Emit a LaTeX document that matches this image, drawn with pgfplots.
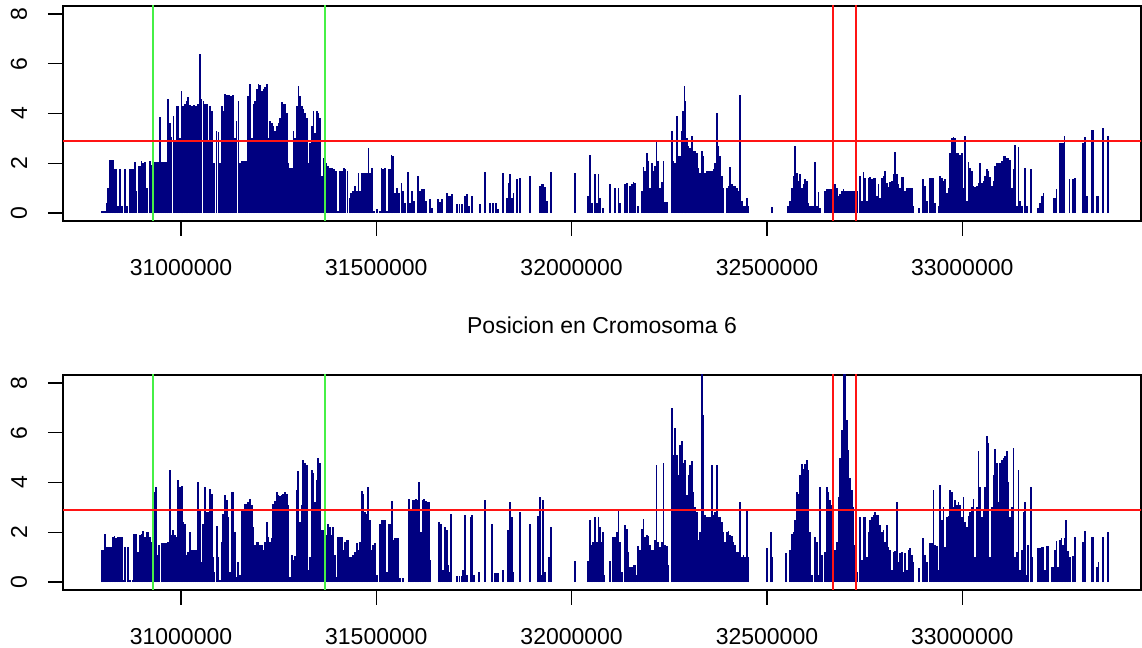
\documentclass[border=0pt]{standalone}
\usepackage{fontspec}
\setmainfont{Liberation Sans}
\usepackage{pgfplots}
\usepackage{pgfplotstable}
\pgfplotsset{compat=1.18}
\definecolor{rnavy}{RGB}{0,0,128}
\definecolor{rgreen}{RGB}{70,240,70}
\definecolor{rred}{RGB}{255,20,20}

% positions in kb (thousands of bp) along chromosome 6
\pgfplotstableread{
x y
30797.7 0.1
30802.8 0.1
30808.0 0.1
30810.5 0.4
30813.1 1.0
30816.9 2.15
30820.8 2.15
30825.9 2.15
30829.7 1.75
30833.6 1.75
30838.7 0.3
30843.8 1.75
30848.9 0.3
30856.6 1.75
30861.7 0.3
30868.1 1.75
30872.0 1.75
30877.1 1.75
30882.2 2.05
30886.0 0.9
30891.2 1.9
30895.0 1.9
30898.8 2.1
30902.7 2.0
30907.8 2.05
30912.9 1.0
30920.6 2.1
30925.7 1.95
30933.4 2.05
30938.5 2.05
30943.6 2.05
30946.2 3.85
30951.3 2.05
30956.4 2.05
30961.6 2.05
30966.7 4.6
30971.8 3.6
30975.6 3.05
30980.8 3.9
30984.6 2.9
30989.7 4.3
30993.6 4.3
30997.4 3.0
31001.2 4.9
31005.1 4.3
31010.2 4.4
31014.0 4.5
31017.9 4.65
31023.0 4.35
31028.1 4.3
31033.2 4.35
31038.4 4.3
31043.5 4.4
31048.6 6.4
31052.4 4.6
31057.6 4.5
31061.4 4.4
31066.5 4.4
31070.4 2.9
31074.2 4.3
31079.3 4.1
31084.4 2.0
31090.8 3.3
31096.0 3.25
31099.8 2.0
31104.9 4.3
31108.8 4.1
31112.6 4.8
31117.7 4.75
31122.8 4.75
31128.0 4.7
31133.1 4.75
31138.2 3.0
31142.0 3.7
31147.2 4.5
31151.0 2.0
31156.1 2.1
31161.2 2.1
31166.4 2.1
31171.5 4.7
31176.6 5.2
31181.7 3.0
31185.6 4.4
31189.4 4.5
31194.5 5.0
31198.4 5.2
31202.2 5.15
31207.3 4.9
31211.2 5.0
31215.0 5.05
31220.1 5.2
31224.0 3.0
31227.8 3.7
31232.9 3.6
31236.8 3.5
31240.6 3.3
31245.7 3.5
31249.6 3.6
31253.4 3.8
31258.5 4.45
31262.4 4.4
31266.2 4.4
31271.3 4.0
31275.2 2.0
31279.0 1.8
31284.1 1.8
31288.0 3.3
31291.8 3.0
31296.9 4.3
31300.8 5.1
31304.6 4.7
31309.7 4.3
31313.6 4.2
31317.4 4.0
31322.5 3.8
31326.4 2.0
31330.2 2.8
31335.3 3.5
31339.2 4.1
31343.0 3.2
31348.1 4.1
31352.0 4.0
31355.8 3.8
31360.9 1.5
31364.8 2.2
31371.2 2.0
31376.3 1.9
31381.4 1.8
31386.5 1.8
31391.6 1.75
31396.8 1.7
31401.9 0.1
31407.0 1.7
31412.1 1.7
31417.2 1.8
31421.1 1.75
31426.2 1.7
31431.3 0.6
31435.2 0.8
31440.3 0.9
31445.4 1.1
31450.5 0.9
31454.4 1.6
31458.2 0.9
31463.3 1.6
31467.2 1.6
31471.0 1.6
31476.1 1.6
31480.0 2.6
31483.8 1.6
31488.9 1.8
31494.0 0.1
31501.7 0.15
31509.4 0.1
31513.2 1.8
31517.1 1.75
31522.2 1.8
31527.3 0.1
31531.2 1.75
31535.0 1.75
31538.8 2.35
31542.7 2.3
31547.8 0.8
31552.9 1.0
31558.0 0.8
31564.4 1.2
31568.3 0.9
31573.4 0.4
31581.1 1.65
31586.2 0.4
31591.3 0.9
31596.4 0.5
31606.7 1.5
31611.8 0.9
31616.9 0.95
31622.0 0.95
31627.2 0.5
31637.4 0.55
31642.5 0.2
31657.9 0.55
31663.0 0.45
31668.1 0.55
31680.9 0.8
31686.0 0.7
31688.6 0.7
31693.7 0.75
31706.5 0.35
31712.9 0.35
31719.3 0.35
31727.0 0.7
31732.1 0.75
31737.2 0.3
31744.9 0.7
31765.4 0.35
31778.2 1.65
31791.0 0.4
31798.7 0.4
31806.4 0.4
31811.5 0.15
31824.3 1.6
31834.5 0.6
31838.4 1.2
31842.2 1.55
31847.3 0.6
31851.2 0.8
31860.1 1.35
31867.8 1.4
31893.4 1.5
31919.0 1.1
31924.1 1.15
31928.0 1.15
31931.8 1.05
31936.9 0.5
31947.2 1.65
32009.0 1.6
32041.9 0.7
32047.0 2.35
32052.1 0.4
32059.8 1.55
32064.9 0.4
32068.8 1.55
32072.6 0.6
32080.3 0.2
32098.2 1.15
32111.0 1.0
32120.0 1.0
32123.8 0.4
32136.6 1.15
32141.7 1.2
32149.4 1.1
32154.5 1.15
32158.4 1.25
32162.2 1.2
32169.9 0.3
32180.1 0.9
32184.0 1.85
32187.8 1.7
32192.9 2.4
32196.8 2.1
32200.6 1.0
32205.7 2.0
32209.6 1.7
32213.4 1.9
32217.2 2.9
32221.1 2.1
32226.2 1.0
32231.3 1.25
32235.2 2.1
32239.0 0.45
32244.1 0.45
32256.9 3.3
32260.8 2.1
32264.6 2.0
32269.7 3.9
32273.6 2.3
32277.4 2.3
32282.5 3.3
32285.0 4.1
32288.5 5.1
32291.0 4.5
32295.3 3.0
32299.2 2.7
32303.0 2.6
32308.1 3.1
32312.0 2.5
32315.8 2.5
32320.9 2.4
32324.8 1.8
32328.6 1.6
32333.7 2.5
32337.6 2.3
32341.4 1.6
32346.5 1.7
32350.4 1.7
32354.2 1.7
32359.3 1.7
32363.2 1.75
32367.0 2.0
32372.1 4.0
32376.0 2.7
32379.8 2.3
32384.9 1.5
32388.8 1.0
32397.7 1.0
32401.6 1.1
32405.4 1.85
32410.5 1.15
32414.4 1.1
32418.2 1.1
32423.3 1.0
32427.2 0.9
32431.0 4.75
32436.1 0.5
32440.0 0.3
32443.8 0.3
32448.9 0.6
32452.8 0.3
32512.9 0.25
32553.9 0.3
32559.0 0.5
32564.1 1.0
32568.0 1.5
32571.8 2.7
32576.9 1.6
32580.8 1.3
32584.6 1.55
32589.7 1.0
32593.6 1.15
32597.4 1.35
32602.5 1.3
32606.4 0.4
32610.2 0.3
32615.3 0.3
32619.2 0.3
32623.0 2.05
32628.1 0.3
32632.0 0.85
32635.8 0.2
32648.6 0.9
32653.7 0.95
32657.6 0.95
32661.4 0.95
32666.5 0.95
32674.2 1.15
32679.3 1.0
32683.2 0.7
32687.0 0.75
32692.1 0.9
32696.0 0.95
32699.8 0.9
32704.9 0.9
32708.8 0.9
32712.6 0.9
32717.7 0.9
32721.6 0.9
32725.4 0.9
32731.8 0.9
32738.2 1.5
32743.3 0.5
32747.2 1.65
32751.0 1.4
32756.1 0.5
32760.0 1.4
32763.8 1.45
32768.9 1.35
32772.8 1.4
32776.6 1.4
32781.7 0.7
32785.6 1.15
32789.4 0.6
32794.5 1.4
32798.4 1.5
32802.2 1.7
32807.3 1.2
32811.2 1.05
32815.0 1.25
32820.1 1.3
32824.0 1.55
32827.8 2.45
32832.9 1.55
32836.8 1.15
32840.6 1.0
32845.7 1.45
32849.6 1.45
32853.4 0.9
32858.5 1.0
32862.4 1.0
32866.2 1.0
32871.3 1.0
32875.2 0.3
32889.2 0.2
32899.5 1.35
32904.6 1.1
32909.7 0.5
32917.4 1.4
32922.5 1.4
32926.4 1.4
32930.2 0.4
32939.2 0.3
32943.0 1.5
32948.1 1.4
32952.0 1.3
32955.8 1.35
32960.9 0.8
32964.8 1.0
32968.6 2.4
32973.7 3.0
32977.6 3.05
32981.4 3.0
32986.5 2.4
32990.4 2.4
32994.2 2.35
32999.3 2.4
33003.2 1.0
33007.0 3.1
33012.1 0.5
33016.0 2.05
33019.8 1.8
33024.9 1.7
33028.8 1.1
33032.6 1.05
33037.7 1.1
33041.6 1.2
33045.4 2.0
33050.5 1.2
33054.4 1.3
33058.2 1.5
33063.3 1.75
33067.2 1.7
33071.0 1.45
33076.1 1.1
33080.0 1.3
33083.8 1.9
33088.9 2.0
33092.8 2.0
33096.6 2.0
33101.7 2.1
33105.6 2.3
33109.4 2.3
33114.5 2.2
33118.4 2.2
33122.2 2.15
33127.3 1.0
33131.2 1.75
33135.0 2.75
33140.1 0.3
33144.0 2.65
33147.8 0.5
33152.9 0.3
33160.6 1.8
33165.7 0.3
33176.0 1.75
33193.9 0.2
33199.0 0.4
33204.1 0.7
33208.0 0.8
33233.6 0.6
33237.4 0.6
33241.2 0.95
33250.2 2.8
33254.0 2.8
33257.9 2.8
33261.7 3.1
33274.5 1.35
33283.5 1.35
33286.0 1.3
33288.6 1.4
33309.1 2.8
33314.2 3.05
33319.3 0.7
33332.1 3.35
33336.0 3.35
33344.9 0.7
33348.8 0.7
33360.3 3.4
33373.1 3.1
}\toptable

\pgfplotstableread{
x y
30797.7 1.3
30800.2 1.3
30802.8 1.3
30805.4 1.95
30808.0 1.3
30810.5 1.4
30813.1 1.4
30818.2 1.4
30820.8 1.4
30825.9 1.8
30829.7 1.85
30833.6 1.75
30838.7 1.8
30843.8 1.8
30848.9 1.8
30851.5 0.1
30856.6 1.4
30864.3 1.4
30869.4 0.1
30875.0 0.1
30879.7 1.95
30882.2 1.95
30884.8 1.95
30889.9 1.2
30895.0 1.9
30900.1 1.95
30902.7 2.05
30907.8 1.8
30912.9 2.0
30915.5 2.0
30920.6 1.8
30925.7 1.6
30930.8 3.6
30935.9 3.8
30938.5 1.1
30943.6 1.5
30951.3 1.55
30953.9 1.55
30956.4 1.55
30959.0 1.55
30961.6 1.55
30964.1 1.55
30966.7 1.6
30971.8 4.5
30977.0 1.9
30979.5 2.1
30984.6 1.9
30989.7 1.8
30992.3 4.1
30997.4 3.8
31002.5 3.85
31005.1 2.4
31010.2 2.35
31015.3 1.1
31017.9 1.2
31023.0 2.0
31028.1 1.3
31033.2 1.3
31038.4 1.3
31043.5 4.0
31048.6 2.95
31053.7 0.8
31056.3 2.35
31061.4 3.8
31066.5 2.8
31069.1 2.8
31074.2 3.75
31079.3 3.55
31081.9 1.0
31084.4 0.4
31092.1 2.25
31094.7 1.0
31099.8 0.1
31104.9 1.6
31107.5 2.75
31112.6 3.5
31117.7 3.3
31120.3 2.6
31125.4 0.4
31130.6 3.6
31133.1 3.6
31138.2 2.0
31143.4 0.2
31145.9 0.8
31151.0 0.3
31156.1 2.9
31158.7 2.9
31163.8 3.15
31168.9 3.15
31171.5 3.2
31176.6 3.35
31181.7 3.1
31184.3 2.2
31189.4 1.5
31194.5 1.6
31197.1 1.6
31202.2 1.5
31207.3 1.5
31209.9 1.3
31215.0 1.6
31220.1 2.4
31222.7 1.8
31227.8 1.6
31232.9 1.75
31235.5 3.15
31240.6 3.25
31245.7 3.6
31248.3 3.5
31253.4 3.45
31258.5 3.5
31261.1 3.55
31266.2 3.6
31271.3 3.55
31273.9 3.1
31279.0 0.2
31284.1 1.1
31286.7 0.9
31291.8 1.05
31296.9 3.7
31299.5 4.45
31304.6 2.4
31309.7 3.1
31312.3 4.9
31317.4 4.8
31322.5 4.7
31325.1 0.5
31330.2 1.0
31335.3 4.5
31337.9 4.4
31343.0 3.2
31348.1 4.1
31350.7 5.0
31355.8 4.8
31360.9 2.1
31363.5 2.1
31368.6 2.75
31371.2 1.9
31376.3 2.35
31381.4 2.2
31386.5 1.9
31389.1 2.2
31394.2 1.1
31399.3 0.2
31401.9 1.8
31407.0 1.8
31412.1 1.8
31414.7 1.3
31419.8 1.6
31424.9 1.7
31427.5 1.7
31432.6 1.0
31437.7 1.0
31440.3 1.1
31445.4 1.2
31450.5 1.55
31453.1 1.3
31458.2 1.6
31463.3 3.65
31465.9 3.55
31471.0 2.8
31476.1 2.75
31478.7 3.8
31483.8 2.5
31488.9 1.3
31491.5 1.5
31496.6 1.55
31501.7 0.3
31509.4 2.35
31514.5 2.5
31517.1 2.5
31522.2 2.5
31527.3 0.4
31532.4 2.35
31535.0 2.35
31540.1 3.25
31542.7 1.7
31547.8 1.75
31552.9 1.75
31555.4 1.75
31560.6 0.15
31568.3 0.15
31583.6 3.35
31588.7 2.95
31591.3 0.9
31593.9 3.3
31596.4 3.3
31601.6 3.35
31604.1 0.9
31606.7 3.3
31609.3 4.0
31614.4 2.0
31619.5 3.3
31622.0 3.35
31627.2 3.25
31632.3 3.2
31634.8 3.2
31637.4 0.9
31660.4 2.4
31665.6 2.35
31670.7 0.5
31675.8 2.2
31680.9 2.1
31683.5 0.7
31688.6 0.4
31691.2 2.75
31706.5 0.25
31712.9 0.25
31719.3 0.25
31721.9 0.5
31727.0 2.7
31732.1 0.3
31742.3 2.6
31744.9 2.7
31750.0 0.3
31762.8 0.4
31778.2 3.3
31796.1 2.35
31803.8 0.35
31806.4 0.35
31811.5 0.35
31824.3 0.5
31837.1 2.1
31842.2 3.2
31847.3 2.6
31851.2 0.4
31867.8 2.8
31893.4 2.35
31913.9 2.65
31919.0 3.4
31924.1 0.3
31926.7 3.3
31931.8 0.4
31942.0 1.0
31947.2 2.2
32009.0 0.85
32041.9 0.85
32047.0 2.5
32052.1 1.5
32054.7 1.6
32059.8 2.6
32064.9 1.6
32068.8 2.6
32072.6 2.2
32077.7 1.6
32080.3 2.0
32083.0 0.3
32098.2 0.85
32105.9 1.8
32111.0 1.8
32116.1 2.0
32120.0 2.95
32123.8 1.6
32128.9 0.4
32136.6 2.3
32141.7 2.15
32145.6 1.2
32149.4 0.6
32154.5 0.6
32158.4 0.7
32162.2 0.7
32165.0 0.3
32169.9 1.45
32175.0 1.3
32180.1 2.15
32184.0 2.55
32187.8 1.8
32192.9 1.9
32196.8 1.85
32200.6 1.5
32205.7 1.3
32209.6 1.3
32213.4 1.7
32217.2 4.7
32221.1 1.6
32226.2 1.4
32231.3 1.6
32235.2 4.8
32239.0 1.5
32244.1 1.45
32248.0 0.7
32256.9 7.0
32260.8 5.1
32264.6 6.2
32269.7 5.1
32273.6 4.3
32277.4 5.5
32282.5 5.65
32286.4 4.8
32290.2 4.9
32295.3 3.5
32299.2 4.3
32303.0 4.7
32308.1 4.85
32312.0 3.6
32315.8 3.0
32320.9 2.8
32324.8 1.7
32328.6 2.0
32333.7 8.5
32337.6 6.7
32341.4 2.7
32346.5 2.6
32350.4 2.6
32354.2 2.6
32359.3 4.7
32363.2 2.7
32367.0 2.8
32372.1 4.7
32376.0 2.6
32379.8 2.6
32384.9 2.4
32388.8 2.0
32392.6 1.6
32397.7 2.0
32401.6 2.05
32405.4 1.9
32410.5 1.85
32414.4 1.6
32418.2 1.5
32423.3 1.2
32427.2 1.2
32431.0 3.2
32436.1 1.0
32440.0 1.1
32443.8 1.0
32448.9 2.85
32452.8 1.0
32500.1 1.35
32510.4 2.0
32512.9 1.0
32548.8 1.15
32559.0 1.3
32564.1 1.95
32568.0 2.0
32571.8 2.5
32576.9 3.6
32580.8 3.55
32584.6 4.3
32589.7 4.75
32593.6 4.55
32597.4 4.75
32602.5 4.9
32606.4 4.5
32610.2 2.0
32615.3 0.3
32623.0 1.8
32628.1 1.6
32632.0 0.3
32635.8 3.8
32640.9 1.1
32648.6 1.2
32653.7 3.8
32657.6 3.6
32661.4 3.3
32666.5 3.1
32669.1 3.3
32674.2 1.3
32679.3 1.6
32683.2 3.4
32687.0 5.0
32692.1 6.1
32696.0 8.5
32699.8 8.5
32704.9 6.5
32708.8 5.3
32712.6 4.2
32717.7 3.7
32721.6 3.0
32725.4 1.5
32731.8 0.4
32738.2 2.6
32743.3 0.9
32747.2 2.6
32751.0 2.6
32756.1 1.0
32760.0 2.0
32763.8 2.5
32768.9 2.6
32772.8 2.7
32776.6 2.8
32781.7 2.7
32785.6 2.7
32789.4 2.3
32794.5 2.0
32798.4 2.1
32802.2 1.6
32807.3 2.3
32811.2 1.4
32815.0 1.3
32820.1 0.5
32824.0 1.2
32827.8 1.25
32832.9 3.2
32836.8 0.8
32840.6 1.15
32845.7 1.2
32849.6 0.4
32853.4 1.15
32858.5 0.5
32862.4 1.3
32866.2 1.35
32871.3 1.1
32875.2 0.8
32889.2 0.55
32899.5 1.75
32904.6 1.1
32909.7 0.8
32917.4 1.55
32922.5 1.55
32926.4 3.7
32930.2 1.5
32935.3 1.45
32939.2 0.5
32943.0 3.9
32948.1 2.5
32952.0 3.0
32955.8 1.4
32960.9 2.6
32964.8 2.65
32968.6 3.7
32973.7 3.6
32977.6 3.0
32981.4 3.3
32986.5 3.1
32990.4 3.2
32994.2 3.1
32999.3 2.6
33003.2 3.4
33007.0 2.4
33012.1 2.2
33016.0 2.65
33019.8 2.8
33024.9 3.0
33028.8 3.35
33032.6 1.0
33037.7 3.0
33041.6 5.25
33045.4 3.8
33050.5 2.6
33054.4 2.9
33058.2 3.8
33063.3 5.85
33067.2 5.6
33071.0 1.0
33076.1 3.0
33080.0 4.3
33083.8 5.35
33088.9 4.8
33092.8 3.2
33096.6 4.8
33101.7 4.9
33105.6 5.0
33109.4 5.05
33114.5 5.25
33118.4 4.0
33122.2 2.6
33127.3 3.0
33131.2 5.4
33135.0 1.0
33140.1 1.2
33144.0 4.5
33147.8 0.5
33152.9 1.3
33156.8 2.8
33160.6 3.2
33165.7 0.3
33168.3 1.5
33176.0 3.8
33178.5 1.0
33193.9 1.35
33199.0 1.35
33204.1 1.4
33208.0 1.4
33211.8 0.5
33216.9 1.45
33220.8 1.45
33229.7 0.6
33233.6 0.6
33237.4 1.3
33241.2 1.65
33245.1 0.6
33250.2 1.7
33254.0 1.75
33257.9 1.5
33261.7 1.75
33265.6 2.5
33270.7 1.25
33275.8 1.0
33283.5 1.05
33288.6 1.8
33309.1 1.6
33314.2 2.05
33316.0 1.8
33332.1 1.8
33336.0 1.8
33344.9 0.6
33348.8 0.8
33360.3 1.8
33373.1 2.0
}\bottomtable

\pgfplotsset{
  rpanel/.style={
    scale only axis,
    width=539pt, height=107.5pt,
    xmin=30697.9, xmax=33457.6,
    ymin=-0.32, ymax=8.32,
    axis line style={line width=0.6pt, black},
    tick align=outside, tick pos=left,
    major tick length=7.5pt,
    every tick/.style={line width=0.6pt, black},
    scaled x ticks=false, scaled y ticks=false,
    xtick={31000,31500,32000,32500,33000},
    xticklabels={31000000,31500000,32000000,32500000,33000000},
    ytick={0,2,4,6,8},
    /pgf/number format/assume math mode=true,
    tick label style={font=\fontsize{11.5}{13.8}\selectfont, inner sep=0pt},
    yticklabel style={rotate=90, anchor=south},
    xticklabel style={anchor=north},
    yticklabel shift=10.25pt,
    xticklabel shift=11.5pt,
  },
  spikes/.style={ycomb, no marks, color=rnavy, line width=0.65pt},
  vgreen/.style={color=rgreen, line width=0.75pt, forget plot},
  vred/.style={color=rred, line width=0.7pt, forget plot},
}

\begin{document}
\begin{tikzpicture}
\begin{axis}[rpanel, at={(31.5pt,213.5pt)}, anchor=south west,
  xlabel={Posicion en Cromosoma 6},
  xlabel style={at={(axis description cs:0.5,-0.484)}, anchor=center, font=\fontsize{11.5}{13.8}\selectfont}]
  \addplot[spikes] table[x=x,y=y] {\toptable};
  \addplot[vgreen] coordinates {(30928.3,-1) (30928.3,10)};
  \addplot[vgreen] coordinates {(31368.6,-1) (31368.6,10)};
  \addplot[vred] coordinates {(32669.1,-1) (32669.1,10)};
  \addplot[vred] coordinates {(32728.0,-1) (32728.0,10)};
  \addplot[vred] coordinates {(30500,2.9) (33600,2.9)};
\end{axis}
\begin{axis}[rpanel, at={(31.5pt,29pt)}, anchor=south west]
  \addplot[spikes] table[x=x,y=y] {\bottomtable};
  \addplot[vgreen] coordinates {(30928.3,-1) (30928.3,10)};
  \addplot[vgreen] coordinates {(31368.6,-1) (31368.6,10)};
  \addplot[vred] coordinates {(32669.1,-1) (32669.1,10)};
  \addplot[vred] coordinates {(32728.0,-1) (32728.0,10)};
  \addplot[vred] coordinates {(30500,2.9) (33600,2.9)};
\end{axis}
\pgfresetboundingbox
\path (0,0) rectangle (571pt,324pt);
\end{tikzpicture}
\end{document}
